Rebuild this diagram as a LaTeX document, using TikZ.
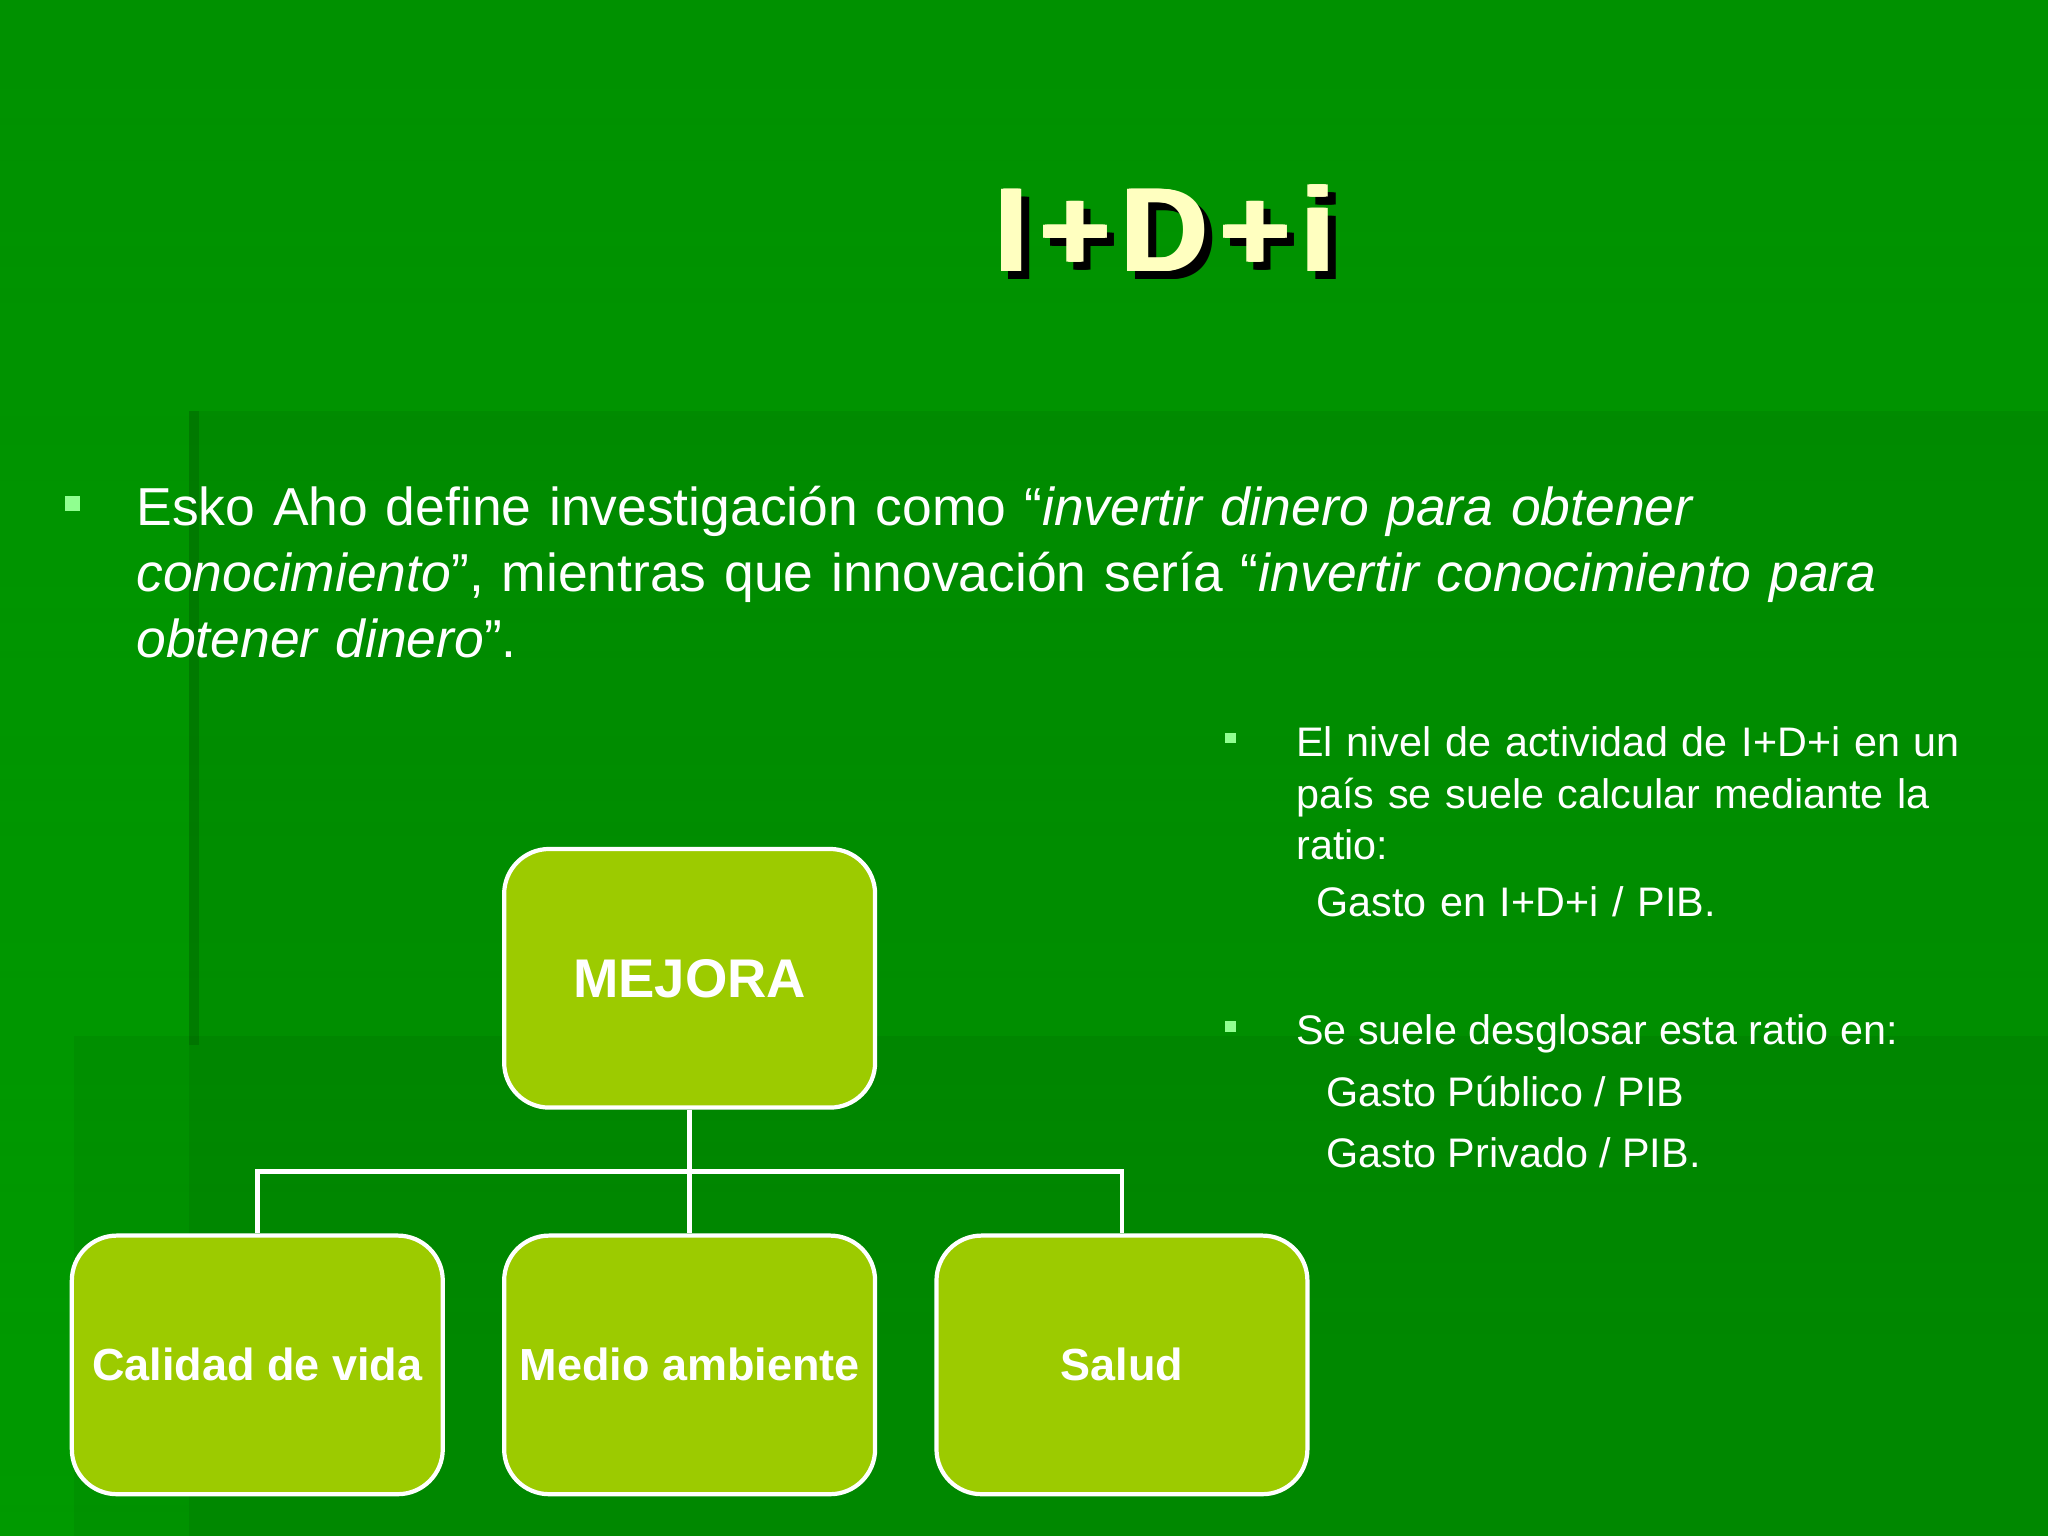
\documentclass[tikz,border=0pt]{standalone}
\usepackage{fontspec}
\setmainfont{Liberation Sans}
\definecolor{bgtop}{HTML}{007C00}
\definecolor{bgbot}{HTML}{00C400}
\definecolor{boxg}{HTML}{9CCB00}
\definecolor{titley}{HTML}{FFFFC0}
\definecolor{bul}{HTML}{90FF90}
\begin{document}
\begin{tikzpicture}[x=0.013061cm,y=-0.013061cm,
  box/.style={draw=white,line width=1.2pt,fill=boxg,rounded corners=0.45cm,minimum width=284*0.013061cm,minimum height=198*0.013061cm,text=white,font=\bfseries\fontsize{12.8}{14}\selectfont},
  conn/.style={draw=white,line width=1.4pt},
  ttl/.style={font=\bfseries\fontsize{34}{38}\selectfont\addfontfeature{LetterSpace=10}},
  txt/.style={text=white,anchor=north west,align=left,inner sep=0pt}]
\shade[left color=bgbot,right color=bgtop,shading angle=0] (0,0) rectangle (1568,1176);
\shade[top color=bgtop,bottom color=bgbot!60!bgtop,opacity=0.7] (0,0) rectangle (1568,1176);
\fill[black,opacity=0.06] (145,315) rectangle (1568,1176);
\fill[black,opacity=0.05] (57,793) rectangle (1568,1176);
\fill[black,opacity=0.12] (145,315) rectangle (152,800);
% title
\foreach \dx in {-1.5,0,1.5}{
  \node[ttl,text=black] at (898+\dx,181) {I+D+i};}
\foreach \dx in {-1.5,0,1.5}{
  \node[ttl,text=titley] at (892+\dx,175) {I+D+i};}
\node[ttl,text=titley] (title) at (892,175) {I+D+i};
% bullet 1
\fill[bul] (50,380) rectangle (61,391);
\node[txt,font=\fontsize{15.2}{18.7}\selectfont,text width=1440*0.013061cm] (t1) at (104,372) {Esko Aho define investigación como “\textit{invertir dinero para obtener conocimiento}”, mientras que innovación sería “\textit{invertir conocimiento para obtener dinero}”.};
% right bullets
\fill[bul] (938,561) rectangle (946,569);
\node[txt,font=\fontsize{11.75}{14.6}\selectfont,text width=540*0.013061cm] (t2) at (992,556) {El nivel de actividad de I+D+i en un país se suele calcular mediante la ratio:\\[1.5pt]\hspace*{0.2cm}Gasto en I+D+i / PIB.};
\fill[bul] (938,782) rectangle (946,790);
\node[txt,font=\fontsize{11.75}{17.6}\selectfont] (t3) at (992,776) {Se suele desglosar esta ratio en:\\\hspace*{0.3cm}Gasto Público / PIB\\\hspace*{0.3cm}Gasto Privado / PIB.};
% org chart
\node[box,font=\bfseries\fontsize{15.5}{18}\selectfont] (m) at (528,749) {MEJORA};
\node[box] (c) at (197,1045) {Calidad de vida};
\node[box] (a) at (528,1045) {Medio ambiente};
\node[box] (s) at (859,1045) {Salud};
\coordinate (j) at (528,897);
\draw[conn] (m.south) -- (a.north);
\draw[conn] (c.north) |- (j) -| (s.north);
\end{tikzpicture}
\end{document}
